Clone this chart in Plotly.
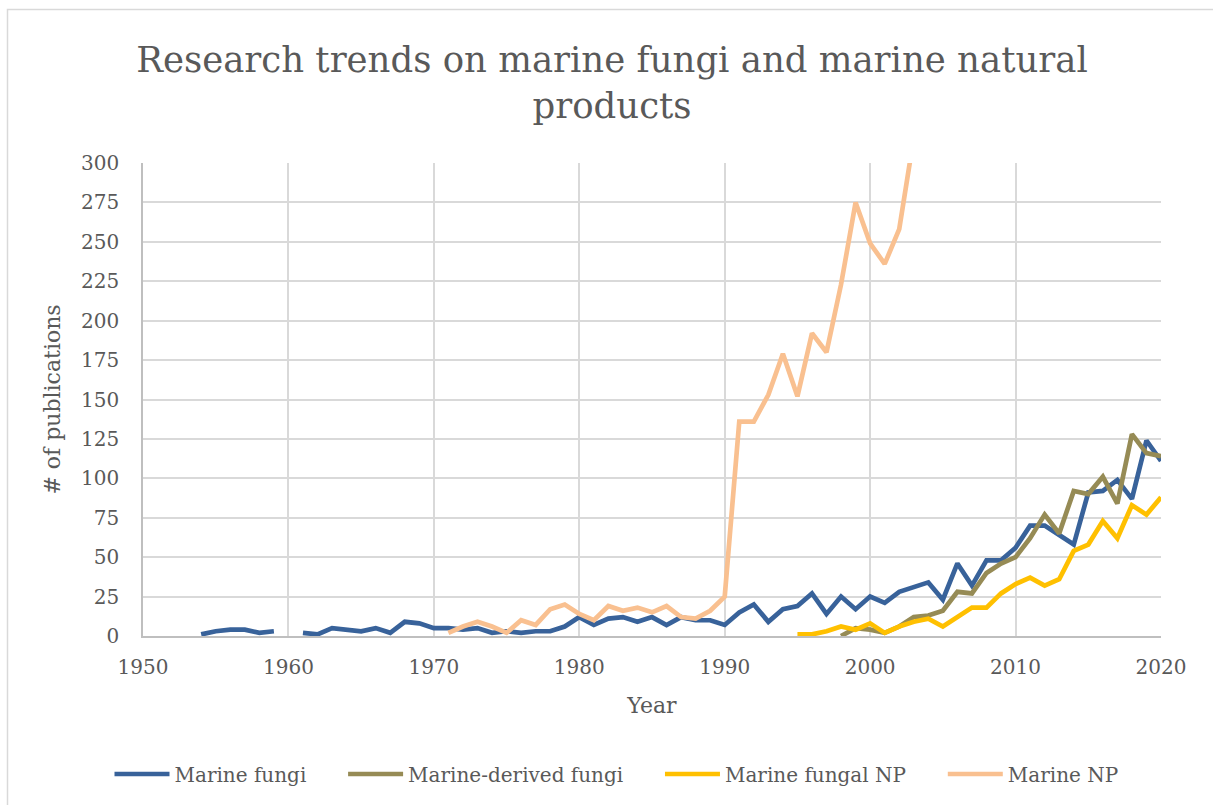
import plotly.graph_objects as go

# Marine fungi (1954-2020, gap at 1960)
fungi_years = list(range(1954, 2021))
fungi_vals = [1, 3, 4, 4, 2, 3, None, 2, 1, 5, 4, 3, 5, 2, 9, 8,
              5, 5, 4, 5, 2, 3, 2, 3, 3, 6,
              12, 7, 11, 12, 9, 12, 7, 12, 10, 10,
              7, 15, 20, 9, 17, 19, 27, 14, 25, 17,
              25, 21, 28, 31, 34, 23, 46, 32, 48, 48,
              56, 70, 70, 64, 58, 91, 92, 99, 87, 124, 111]

# Marine-derived fungi (1998-2020)
derived_years = list(range(1998, 2021))
derived_vals = [0, 5, 4, 2, 6, 12, 13, 16, 28, 27, 40, 46,
                50, 62, 77, 65, 92, 90, 101, 84, 128, 116, 114]

# Marine fungal NP (1995-2020)
fungalnp_years = list(range(1995, 2021))
fungalnp_vals = [1, 1, 3, 6, 4, 8, 2, 6, 9, 11, 6, 12, 18, 18, 27,
                 33, 37, 32, 36, 54, 58, 73, 62, 83, 77, 88]

# Marine NP (1971-2003 visible; beyond the 300 axis limit)
np_years = list(range(1971, 2004))
np_vals = [2, 6, 9, 6, 2, 10, 7, 17, 20,
           14, 10, 19, 16, 18, 15, 19, 12, 11, 16,
           25, 136, 136, 153, 179, 152, 192, 180, 223, 275,
           249, 236, 258, 316]

series_names = ["Marine fungi", "Marine-derived fungi", "Marine fungal NP", "Marine NP"]
series_x = [fungi_years, derived_years, fungalnp_years, np_years]
series_y = [fungi_vals, derived_vals, fungalnp_vals, np_vals]
series_colors = ["#38629A", "#968B55", "#FFC000", "#F9C090"]

x_ticks = [1950, 1960, 1970, 1980, 1990, 2000, 2010, 2020]
y_ticks = list(range(0, 301, 25))

FONT = "DejaVu Serif"
TXT = "#595959"
PAD = "\u00a0" * 5  # spacing after each legend entry

fig = go.Figure()
n = len(series_names)
for i, (name, xs, ys, col) in enumerate(zip(series_names, series_x, series_y, series_colors)):
    fig.add_trace(go.Scatter(
        x=xs, y=ys, name=name + (PAD if i < n - 1 else ""), mode="lines",
        line=dict(color=col, width=4.7),
        connectgaps=False,
    ))

L, R, T, B = 143, 52, 163, 169
W, H = 1213, 805
pw, ph = W - L - R, H - T - B

fig.update_layout(
    width=W, height=H,
    margin=dict(l=L, r=R, t=T, b=B),
    paper_bgcolor="white", plot_bgcolor="white",
    font=dict(family=FONT, color=TXT),
    title=dict(
        text="Research trends on marine fungi and marine natural<br>products",
        font=dict(family=FONT, size=35.5, color=TXT),
        x=612 / W, xanchor="center", xref="container",
        y=1 - 72 / H, yanchor="top", yref="container",
    ),
    xaxis=dict(
        range=[1950, 2020], tickvals=x_ticks, ticktext=[str(v) for v in x_ticks],
        showgrid=True, gridcolor="#D9D9D9", gridwidth=1.5,
        showline=True, linecolor="#BFBFBF", linewidth=1.5,
        zeroline=False, ticks="", ticklabelstandoff=12,
        tickfont=dict(family=FONT, size=20, color=TXT),
        title=dict(text="Year", font=dict(family=FONT, size=22, color=TXT), standoff=20),
    ),
    yaxis=dict(
        range=[0, 300], tickvals=y_ticks,
        showgrid=True, gridcolor="#D9D9D9", gridwidth=1.5,
        showline=True, linecolor="#BFBFBF", linewidth=1.5,
        zeroline=False, ticks="", ticklabelstandoff=18,
        tickfont=dict(family=FONT, size=20, color=TXT),
        title=dict(text="# of publications", font=dict(family=FONT, size=22, color=TXT), standoff=14),
    ),
    legend=dict(
        orientation="h", x=(W / 2 + 10) / W, xanchor="center", xref="container",
        y=(H - 774) / H, yanchor="middle", yref="container",
        font=dict(family=FONT, size=20, color=TXT),
        itemwidth=55, bgcolor="rgba(0,0,0,0)",
    ),
    shapes=[dict(
        type="rect", xref="paper", yref="paper",
        x0=(7.5 - L) / pw, x1=(W + 20 - L) / pw,
        y0=(ph + T - (H + 20)) / ph, y1=(ph + T - 9.5) / ph,
        line=dict(color="#D9D9D9", width=1.5), fillcolor="rgba(0,0,0,0)",
        layer="below",
    )],
)

fig.write_html("out.html")
